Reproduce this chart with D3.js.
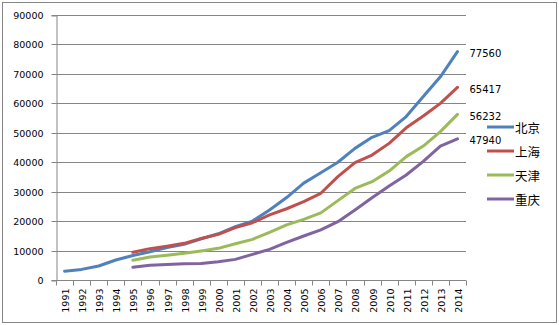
<!DOCTYPE html>
<html><head><meta charset="utf-8">
<script src="https://cdn.jsdelivr.net/npm/d3@7"></script>
<style>body{margin:0;background:#fff}svg{display:block}</style>
</head><body>
<svg id="chart" width="559" height="325"></svg>
<script>
const years = ["1991","1992","1993","1994","1995","1996","1997","1998","1999","2000","2001","2002","2003","2004","2005","2006","2007","2008","2009","2010","2011","2012","2013","2014"];
const seriesNames = ["北京","上海","天津","重庆"];
const beijing = [3000,3600,4750,6800,8300,9600,11000,12100,14000,15700,18100,20000,23800,28000,32900,36400,40000,44700,48450,50700,55500,62300,69000,77560];
const shanghai = [null,null,null,null,9400,10650,11500,12450,14100,15500,17800,19450,22100,24200,26600,29450,35100,39850,42450,46400,51700,55700,60000,65417];
const tianjin = [null,null,null,null,6700,7800,8400,9050,9850,10750,12300,13800,16200,18700,20600,22800,26950,31100,33400,37000,41900,45500,50400,56232];
const chongqing = [null,null,null,null,4300,5000,5300,5550,5600,6200,7000,8700,10400,12800,14950,17000,19800,23800,27950,31900,35650,40300,45500,47940];
const yTicks = [0,10000,20000,30000,40000,50000,60000,70000,80000,90000];
const colors = ["#4F81BD","#C0504D","#9BBB59","#8064A2"];

const allSeries = [beijing, shanghai, tianjin, chongqing];
const svg = d3.select("#chart");
const gridColor = "#868686";
const numFont = "'DejaVu Sans', Verdana, sans-serif";
const cjkFont = "'Noto Sans CJK SC', sans-serif";

svg.append("rect").attr("x",2.5).attr("y",2.5).attr("width",554).attr("height",320)
  .attr("fill","#fff").attr("stroke",gridColor).attr("stroke-width",1);

const pLeft = 56, pRight = 466, pTop = 15, pBottom = 280;
const x = d3.scaleBand().domain(years).range([pLeft, pRight]).padding(0);
const y = d3.scaleLinear().domain([0, 90000]).range([pBottom, pTop]);

// gridlines
svg.append("g").selectAll("line").data(yTicks.filter(d => d > 0)).join("line")
  .attr("x1", pLeft).attr("x2", pRight)
  .attr("y1", d => Math.round(y(d)) + 0.5).attr("y2", d => Math.round(y(d)) + 0.5)
  .attr("stroke", gridColor).attr("stroke-width", 1);

// y axis
const yAxis = svg.append("g").attr("transform", `translate(${pLeft + 0.5},0.5)`)
  .call(d3.axisLeft(y).tickValues(yTicks).tickFormat(d3.format("d")).tickSizeOuter(0).tickSize(5).tickPadding(8));
yAxis.select(".domain").attr("stroke", gridColor);
yAxis.selectAll(".tick line").attr("stroke", gridColor);
yAxis.selectAll(".tick text").attr("font-family", numFont).attr("font-size", "9.5px").attr("fill", "#000");
yAxis.selectAll(".tick").attr("transform", d => `translate(0,${Math.round(y(d))})`);

// x axis
const xg = svg.append("g").attr("transform", `translate(0,${pBottom + 0.5})`);
xg.append("line").attr("x1", pLeft).attr("x2", pRight).attr("y1",0).attr("y2",0).attr("stroke", gridColor);
const boundaries = years.map(d => x(d)).concat([x(years[years.length-1]) + x.bandwidth()]);
xg.selectAll("line.tk").data(boundaries).join("line").attr("class","tk")
  .attr("x1", d => Math.round(d) + 0.5).attr("x2", d => Math.round(d) + 0.5)
  .attr("y1", 0).attr("y2", 5).attr("stroke", gridColor);
xg.selectAll("text").data(years).join("text")
  .attr("transform", d => `translate(${x(d) + x.bandwidth()/2 + 1},8) rotate(-90)`)
  .attr("text-anchor", "end").attr("dominant-baseline", "central")
  .attr("font-family", numFont).attr("font-size", "9.5px").attr("fill", "#000")
  .text(d => d);

// lines
const line = d3.line()
  .defined(d => d != null)
  .x((d, i) => x(years[i]) + x.bandwidth()/2)
  .y(d => y(d));
allSeries.forEach((s, k) => {
  svg.append("path").datum(s).attr("d", line)
    .attr("fill", "none").attr("stroke", colors[k]).attr("stroke-width", 3)
    .attr("stroke-linejoin", "round").attr("stroke-linecap", "round");
});

// end labels
allSeries.forEach((s, k) => {
  const v = s[s.length-1];
  svg.append("text")
    .attr("x", x(years[years.length-1]) + x.bandwidth()/2 + 12)
    .attr("y", y(v) + 2)
    .attr("dominant-baseline", "central")
    .attr("font-family", numFont).attr("font-size", "10px").attr("fill", "#000")
    .text(v);
});

// legend
const legY = [127, 151, 175, 199];
seriesNames.forEach((n, k) => {
  svg.append("line").attr("x1", 487).attr("x2", 514).attr("y1", legY[k]).attr("y2", legY[k])
    .attr("stroke", colors[k]).attr("stroke-width", 3);
  svg.append("text").attr("x", 515).attr("y", legY[k]).attr("dominant-baseline", "central")
    .attr("font-family", cjkFont).attr("font-size", "12.5px").attr("fill", "#000").text(n);
});
</script>
</body></html>
